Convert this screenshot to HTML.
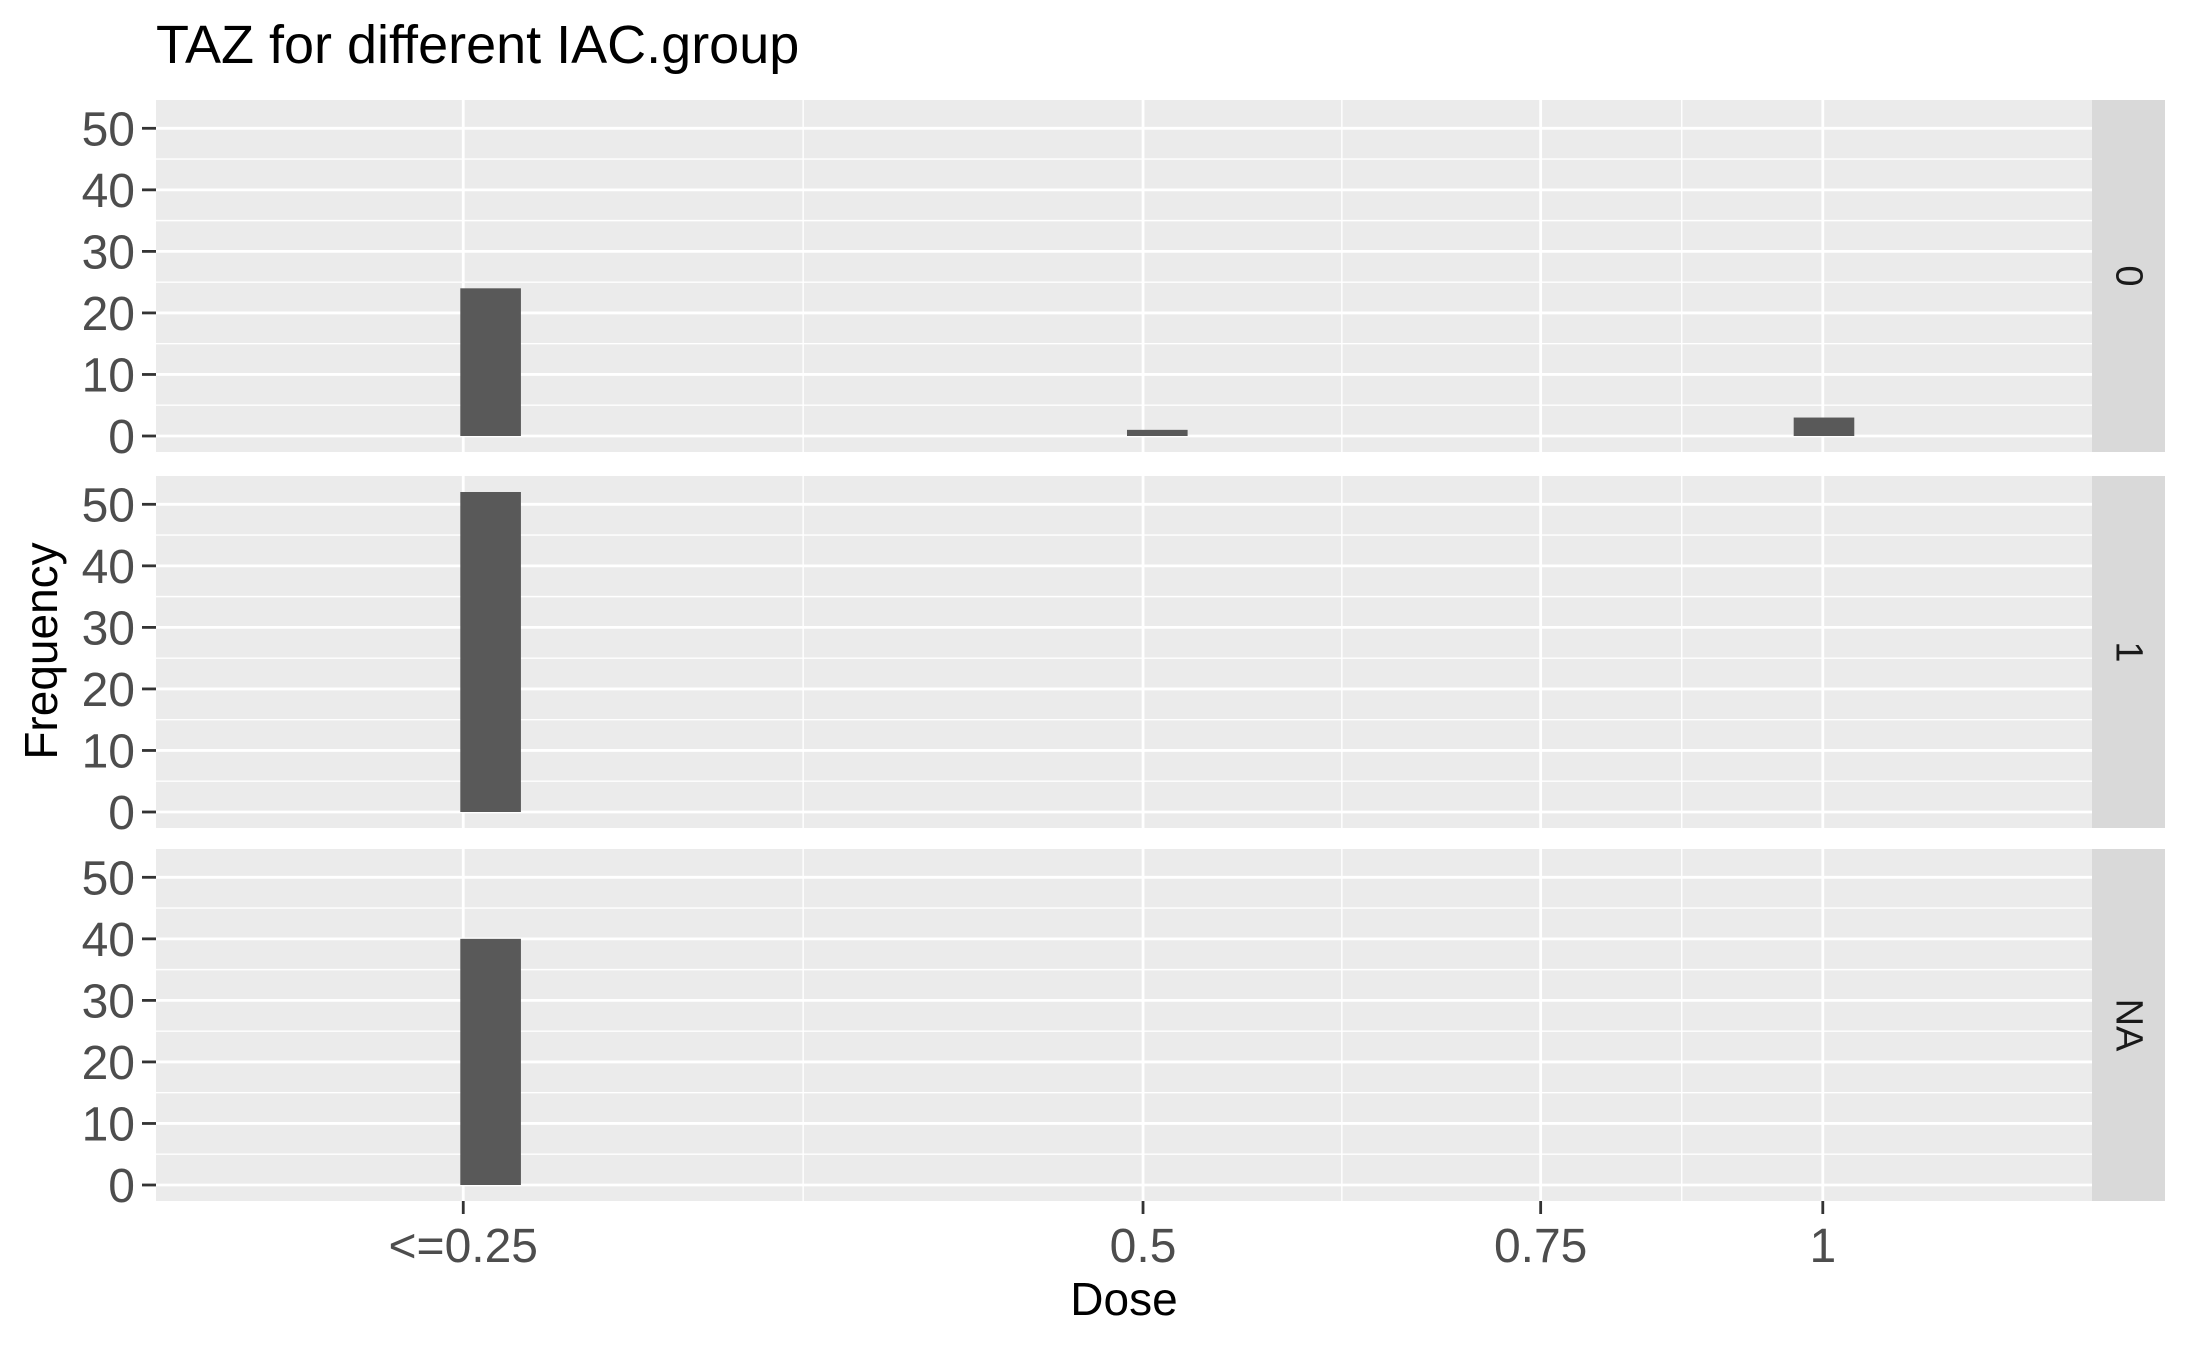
<!DOCTYPE html>
<html><head><meta charset="utf-8"><style>
html,body{margin:0;padding:0;background:#fff;}
svg text{font-family:"Liberation Sans",Arial,sans-serif;}
</style></head><body>
<svg id="chart" width="2187" height="1350" viewBox="0 0 2187 1350" xmlns="http://www.w3.org/2000/svg">
<text x="156" y="63" font-size="54" fill="#000">TAZ for different IAC.group</text>
<text x="1124" y="1315" font-size="46" fill="#000" text-anchor="middle">Dose</text>
<text transform="translate(57,651) rotate(-90)" font-size="46" fill="#000" text-anchor="middle">Frequency</text>
<g id="panels"></g>
</svg>
<script>
const panelLabels = ["0", "1", "NA"];
const doseValues = [0.25, 0.5, 1];
const counts0 = [24, 1, 3];
const counts1 = [52, 0, 0];
const countsNA = [40, 0, 0];
const xTickValues = [0.25, 0.5, 0.75, 1];
const xTickLabels = ["<=0.25", "0.5", "0.75", "1"];
const yTickValues = [0, 10, 20, 30, 40, 50];
const yMinorValues = [5, 15, 25, 35, 45];

const seriesByPanel = [counts0, counts1, countsNA];
const NS = "http://www.w3.org/2000/svg";
const plotL = 156, plotR = 2092, stripR = 2165;
const panelTops = [100, 476, 849], panelH = 352;
const lnMin = Math.log(0.25) - 0.3133, lnMax = Math.log(1) + 0.2745;
function x(v){ return plotL + (Math.log(v) - lnMin) / (lnMax - lnMin) * (plotR - plotL); }
const yMax = Math.max(...counts0, ...counts1, ...countsNA);
const yLo = -0.05 * yMax, yHi = yMax * 1.05;
function y(v, top){ return top + panelH - (v - yLo) / (yHi - yLo) * panelH; }
const binW = 0.0618;
const binOrigin = Math.log(0.25) - 0.003;
function binEdges(v){
  const k = Math.floor((Math.log(v) - binOrigin) / binW + 1e-9);
  const a = binOrigin + k * binW;
  return [Math.exp(a), Math.exp(a + binW)];
}
function el(tag, attrs, parent){
  const e = document.createElementNS(NS, tag);
  for (const k in attrs) e.setAttribute(k, attrs[k]);
  parent.appendChild(e);
  return e;
}
const g = document.getElementById('panels');
const minorX = [];
for (let i = 0; i < xTickValues.length - 1; i++) minorX.push(Math.sqrt(xTickValues[i] * xTickValues[i + 1]));

panelLabels.forEach((lab, p) => {
  const top = panelTops[p];
  const pg = el('g', {}, g);
  
  
  const bg = el('rect', {x: plotL, y: top, width: plotR - plotL, height: panelH, fill: '#ebebeb'}, pg);
  
  
  yMinorValues.forEach(v => {
    const l = el('line', {x1: plotL, x2: plotR, y1: y(v, top), y2: y(v, top), stroke: '#fff', 'stroke-width': 1.4}, pg);
    
    
  });
  minorX.forEach(v => {
    const l = el('line', {x1: x(v), x2: x(v), y1: top, y2: top + panelH, stroke: '#fff', 'stroke-width': 1.4}, pg);
    
    
  });
  yTickValues.forEach(v => {
    const l = el('line', {x1: plotL, x2: plotR, y1: y(v, top), y2: y(v, top), stroke: '#fff', 'stroke-width': 2.8}, pg);
    
    
    const t = el('line', {x1: plotL - 14, x2: plotL, y1: y(v, top), y2: y(v, top), stroke: '#333', 'stroke-width': 2.8}, pg);
    
    
    const tx = el('text', {x: plotL - 21, y: y(v, top) + 17, 'font-size': 48, fill: '#4d4d4d', 'text-anchor': 'end'}, pg);
    
    
    tx.textContent = String(v);
  });
  xTickValues.forEach(v => {
    const l = el('line', {x1: x(v), x2: x(v), y1: top, y2: top + panelH, stroke: '#fff', 'stroke-width': 2.8}, pg);
    
    
  });
  const vals = seriesByPanel[p];
  doseValues.forEach((d, i) => {
    if (!vals[i]) return;
    const [a, b] = binEdges(d);
    const r = el('rect', {x: x(a), y: y(vals[i], top), width: x(b) - x(a), height: y(0, top) - y(vals[i], top), fill: '#595959'}, pg);
    
    
  });
  const st = el('rect', {x: plotR, y: top, width: stripR - plotR, height: panelH, fill: '#d9d9d9'}, pg);
  
  
  const cx = (plotR + stripR) / 2, cy = top + panelH / 2;
  const stt = el('text', {x: cx, y: cy, 'font-size': 38, fill: '#1a1a1a', 'text-anchor': 'middle', 'dominant-baseline': 'central', transform: 'rotate(90 ' + cx + ' ' + cy + ')'}, pg);
  
  
  stt.textContent = lab;
});
const bottom = panelTops[2] + panelH;
xTickValues.forEach((v, i) => {
  const t = el('line', {x1: x(v), x2: x(v), y1: bottom, y2: bottom + 13, stroke: '#333', 'stroke-width': 2.8}, g);
  
  
  const tx = el('text', {x: x(v), y: bottom + 61, 'font-size': 48, fill: '#4d4d4d', 'text-anchor': 'middle'}, g);
  
  
  tx.textContent = xTickLabels[i];
});
</script>
</body></html>
